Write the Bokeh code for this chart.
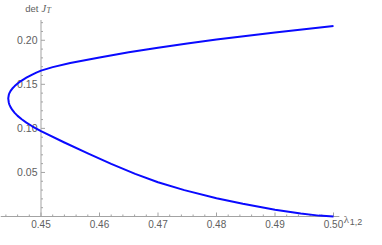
import math
from bokeh.plotting import figure
from bokeh.core.properties import value
from bokeh.embed import file_html
from bokeh.resources import INLINE

# ---- data ----
upper_x = [0.4444, 0.4445, 0.4446, 0.4448, 0.4451, 0.4455, 0.4460, 0.4467, 0.4475, 0.4485,
           0.4492, 0.4500, 0.4520, 0.4550, 0.4600, 0.4650, 0.4700, 0.4750, 0.4800, 0.4850,
           0.4900, 0.4950, 0.5000]
upper_y = [0.1340, 0.1382, 0.1400, 0.1425, 0.1452, 0.1480, 0.1509, 0.1543, 0.1575, 0.1611,
           0.1633, 0.1655, 0.1695, 0.1741, 0.1805, 0.1864, 0.1916, 0.1964, 0.2008, 0.2049,
           0.2088, 0.2126, 0.2163]
lower_x = [0.4444, 0.4445, 0.4446, 0.4448, 0.4451, 0.4455, 0.4460, 0.4467, 0.4475, 0.4485,
           0.4492, 0.4500, 0.4540, 0.4581, 0.4620, 0.4661, 0.4700, 0.4745, 0.4800, 0.4845,
           0.4900, 0.4944, 0.4975, 0.5000]
lower_y = [0.1340, 0.1291, 0.1270, 0.1241, 0.1209, 0.1176, 0.1142, 0.1103, 0.1065, 0.1024,
           0.0998, 0.0968, 0.0840, 0.0714, 0.0598, 0.0484, 0.0388, 0.0299, 0.0208, 0.0145,
           0.0077, 0.0033, 0.0010, 0.0000]

x_major_ticks = [0.45, 0.46, 0.47, 0.48, 0.49, 0.50]
x_major_labels = ["0.45", "0.46", "0.47", "0.48", "0.49", "0.50"]
x_minor_ticks = [0.444, 0.446, 0.448, 0.452, 0.454, 0.456, 0.458, 0.462, 0.464, 0.466,
                 0.468, 0.472, 0.474, 0.476, 0.478, 0.482, 0.484, 0.486, 0.488, 0.492,
                 0.494, 0.496, 0.498]
y_major_ticks = [0.05, 0.10, 0.15, 0.20]
y_major_labels = ["0.05", "0.10", "0.15", "0.20"]
y_minor_ticks = [0.01, 0.02, 0.03, 0.04, 0.06, 0.07, 0.08, 0.09, 0.11, 0.12, 0.13, 0.14,
                 0.16, 0.17, 0.18, 0.19, 0.21, 0.22]
x_axis_end = 0.501
y_axis_top = 0.223
y_axis_x = 0.45
x_axis_y = 0.0

# ---- layout (frame fills the whole canvas; axes are drawn through the scales) ----
W, H = 366, 229
SX = 5850.0
XS = y_axis_x - 40.5 / SX
XE = XS + W / SX
axis_py, top_py = 216.0, 19.5          # canvas pixel rows of y=0 and y=top
SY = (axis_py - top_py) / y_axis_top
YS = -(H - axis_py) / SY
YE = y_axis_top + top_py / SY

AX = "#a3a3a3"
LBL = "#606060"
BLUE = "#0a0aff"
FONT = "Liberation Sans"

p = figure(width=W, height=H, x_range=(XS, XE), y_range=(YS, YE),
           output_backend="svg", toolbar_location=None,
           x_axis_location=None, y_axis_location=None,
           min_border_left=0, min_border_right=0, min_border_top=0, min_border_bottom=0)
p.outline_line_color = None
p.xgrid.visible = False
p.ygrid.visible = False
p.background_fill_color = "white"
p.border_fill_color = "white"

# horizontal axis at y = 0
p.segment(x0=[XS], y0=[x_axis_y], x1=[x_axis_end], y1=[x_axis_y],
          line_color=AX, line_width=1)
p.ray(x=x_major_ticks, y=[x_axis_y] * len(x_major_ticks), length=4, length_units="screen",
      angle=math.pi / 2, line_color=AX, line_width=1)
p.ray(x=x_minor_ticks, y=[x_axis_y] * len(x_minor_ticks), length=2, length_units="screen",
      angle=math.pi / 2, line_color=AX, line_width=1)
p.text(x=x_major_ticks, y=[x_axis_y] * len(x_major_ticks), text=x_major_labels,
       y_offset=7.5, text_align="center", text_baseline="middle",
       text_font=value(FONT), text_font_size="10px", text_color=LBL)

# vertical axis crossing at x = 0.45
p.segment(x0=[y_axis_x], y0=[x_axis_y], x1=[y_axis_x], y1=[y_axis_top],
          line_color=AX, line_width=1)
p.ray(x=[y_axis_x] * len(y_major_ticks), y=y_major_ticks, length=4, length_units="screen",
      angle=0, line_color=AX, line_width=1)
p.ray(x=[y_axis_x] * len(y_minor_ticks), y=y_minor_ticks, length=2, length_units="screen",
      angle=0, line_color=AX, line_width=1)
p.text(x=[y_axis_x] * len(y_major_ticks), y=y_major_ticks, text=y_major_labels,
       x_offset=-3.5, text_align="right", text_baseline="middle",
       text_font=value(FONT), text_font_size="10.5px", text_color=LBL)

# axis titles
p.text(x=[y_axis_x], y=[y_axis_top], text=["det"], x_offset=-2.5, y_offset=-12,
       text_align="right", text_baseline="middle",
       text_font=value(FONT), text_font_size="9.5px", text_color=LBL)
p.text(x=[y_axis_x], y=[y_axis_top], text=["J"], x_offset=0.5, y_offset=-12,
       text_align="left", text_baseline="middle", text_font_style="italic",
       text_font=value("Liberation Serif"), text_font_size="10.5px", text_color=LBL)
p.text(x=[y_axis_x], y=[y_axis_top], text=["T"], x_offset=5.5, y_offset=-9.5,
       text_align="left", text_baseline="middle", text_font_style="italic",
       text_font=value("Liberation Serif"), text_font_size="8px", text_color=LBL)

p.text(x=[x_axis_end], y=[x_axis_y], text=["λ"], x_offset=4.5, y_offset=2.5,
       text_align="left", text_baseline="middle",
       text_font=value("Liberation Serif"), text_font_size="11px", text_color=LBL)
p.text(x=[x_axis_end], y=[x_axis_y], text=["1,2"], x_offset=10.5, y_offset=5.5,
       text_align="left", text_baseline="middle",
       text_font=value(FONT), text_font_size="9px", text_color=LBL)

# curve
curve_x = lower_x[::-1] + upper_x[1:]
curve_y = lower_y[::-1] + upper_y[1:]
p.line(curve_x, curve_y, line_color=BLUE, line_width=2, line_join="round")

open("out.html", "w").write(file_html(p, INLINE))
